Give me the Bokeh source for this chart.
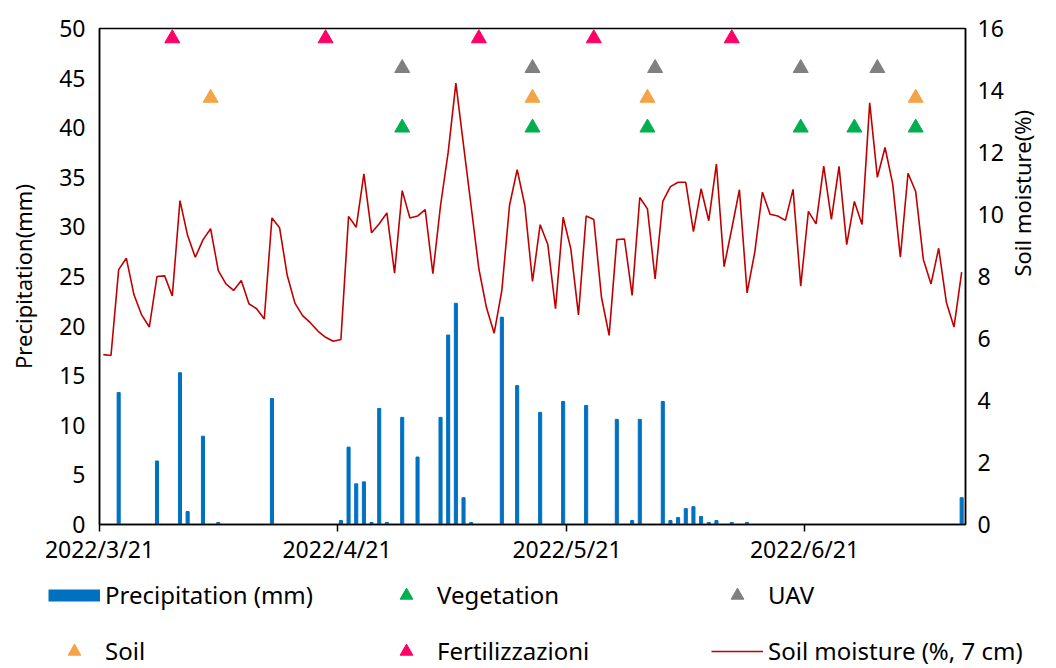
import math
import pandas as pd
from bokeh.plotting import figure
from bokeh.models import Range1d, LinearAxis, FixedTicker, Legend, LegendItem
from bokeh.embed import file_html
from bokeh.resources import INLINE

# ---------------- data ----------------
START = "2022-03-21"
END = "2022-07-12"

# daily soil moisture (%, 7 cm), one value per day from 2022-03-21
soil_moisture = [
    5.48, 5.45, 8.22, 8.59, 7.41, 6.76, 6.37, 8.00, 8.02, 7.37,
    10.45, 9.32, 8.62, 9.18, 9.54, 8.19, 7.76, 7.55, 7.87, 7.12,
    6.96, 6.63, 9.89, 9.57, 8.03, 7.14, 6.74, 6.51, 6.24, 6.04,
    5.91, 5.97, 9.94, 9.59, 11.31, 9.41, 9.70, 10.05, 8.11, 10.77,
    9.89, 9.95, 10.16, 8.09, 10.29, 12.01, 14.24, 12.24, 10.25, 8.25,
    6.99, 6.17, 7.55, 10.29, 11.45, 10.29, 7.84, 9.67, 9.03, 6.96,
    9.91, 8.89, 6.76, 9.95, 9.84, 7.33, 6.10, 9.19, 9.21, 7.39,
    10.55, 10.18, 7.92, 10.42, 10.90, 11.04, 11.04, 9.45, 10.83, 9.80,
    11.63, 8.32, 9.54, 10.80, 7.47, 8.78, 10.72, 10.01, 9.95, 9.81,
    10.81, 7.69, 10.10, 9.70, 11.56, 9.84, 11.55, 9.03, 10.42, 9.68,
    13.60, 11.20, 12.16, 10.99, 8.62, 11.33, 10.74, 8.55, 7.76, 8.91,
    7.17, 6.37, 8.14,
]

precip_dates = [
    "2022-03-23", "2022-03-28", "2022-03-31", "2022-04-01", "2022-04-03",
    "2022-04-05", "2022-04-12", "2022-04-21", "2022-04-22", "2022-04-23",
    "2022-04-24", "2022-04-25", "2022-04-26", "2022-04-27", "2022-04-29",
    "2022-05-01", "2022-05-04", "2022-05-05", "2022-05-06", "2022-05-07",
    "2022-05-08", "2022-05-12", "2022-05-14", "2022-05-17", "2022-05-20",
    "2022-05-23", "2022-05-27", "2022-05-29", "2022-05-30", "2022-06-02",
    "2022-06-03", "2022-06-04", "2022-06-05", "2022-06-06", "2022-06-07",
    "2022-06-08", "2022-06-09", "2022-06-11", "2022-06-13", "2022-07-11",
]
precip_mm = [
    13.3, 6.4, 15.3, 1.3, 8.9,
    0.2, 12.7, 0.4, 7.8, 4.1,
    4.3, 0.2, 11.7, 0.2, 10.8,
    6.8, 10.8, 19.1, 22.3, 2.7,
    0.2, 20.9, 14.0, 11.3, 12.4,
    12.0, 10.6, 0.4, 10.6, 12.4,
    0.4, 0.7, 1.6, 1.8, 0.8,
    0.2, 0.4, 0.2, 0.2, 2.7,
]

fert_dates = ["2022-03-30", "2022-04-19", "2022-05-09", "2022-05-24", "2022-06-11"]
uav_dates = ["2022-04-29", "2022-05-16", "2022-06-01", "2022-06-20", "2022-06-30"]
soil_dates = ["2022-04-04", "2022-05-16", "2022-05-31", "2022-07-05"]
veg_dates = ["2022-04-29", "2022-05-16", "2022-05-31", "2022-06-20", "2022-06-27", "2022-07-05"]
fert_level = 49
uav_level = 46
soil_level = 43
veg_level = 40

x_tick_dates = ["2022-03-21", "2022-04-21", "2022-05-21", "2022-06-21"]
x_tick_labels = ["2022/3/21", "2022/4/21", "2022/5/21", "2022/6/21"]
left_ticks = [0, 5, 10, 15, 20, 25, 30, 35, 40, 45, 50]
right_ticks = [0, 2, 4, 6, 8, 10, 12, 14, 16]

# ---------------- helpers ----------------
t0 = pd.Timestamp(START)


def day_center(d):
    return (pd.Timestamp(d) - t0).days + 0.5


def day_edge(d):
    return float((pd.Timestamp(d) - t0).days)


FONT = "Noto Sans"
BLUE = "#0070C0"
RED = "#C00000"
GREEN = "#00B050"
GREY = "#808080"
ORANGE = "#F4A347"
PINK = "#FF0066"

p = figure(
    width=1056, height=572,
    x_range=Range1d(0, day_edge(END)),
    y_range=Range1d(0, 50),
    output_backend="svg", toolbar_location=None,
    min_border_left=99, min_border_right=91,
    min_border_top=28, min_border_bottom=48,
)
p.extra_y_ranges = {"soil": Range1d(0, 16)}

p.xgrid.visible = False
p.ygrid.visible = False
p.outline_line_color = "black"
p.outline_line_width = 1.5
p.background_fill_color = "white"
p.border_fill_color = "white"

# bars
px = [day_center(d) for d in precip_dates]
p.vbar(x=px, top=precip_mm, width=0.4, color=BLUE)

# soil moisture line
sm_x = [i + 0.5 for i in range(len(soil_moisture))]
p.line(sm_x, soil_moisture, y_range_name="soil", color=RED, line_width=1.6)


# event markers
def markers(dates, level, color):
    xs = [day_center(d) for d in dates]
    return p.scatter(xs, [level] * len(xs), marker="triangle", size=15,
                     fill_color=color, line_color=color)


markers(fert_dates, fert_level, PINK)
markers(uav_dates, uav_level, GREY)
markers(soil_dates, soil_level, ORANGE)
markers(veg_dates, veg_level, GREEN)

# ---------------- axes ----------------
xa = p.xaxis[0]
xa.ticker = FixedTicker(ticks=[day_edge(d) for d in x_tick_dates])
xa.major_label_overrides = {day_edge(d): lab for d, lab in zip(x_tick_dates, x_tick_labels)}
xa.major_tick_out = 7
xa.major_tick_in = 0
xa.major_tick_line_width = 1.5
xa.major_label_standoff = 1

ya = p.yaxis[0]
ya.ticker = FixedTicker(ticks=left_ticks)
ya.axis_label = "Precipitation(mm)"
ya.major_tick_out = 0
ya.major_tick_in = 0
ya.major_label_standoff = 14
ya.axis_label_standoff = 18

yr = LinearAxis(y_range_name="soil", ticker=FixedTicker(ticks=right_ticks),
                axis_label="Soil moisture(%)")
yr.major_tick_out = 0
yr.major_tick_in = 0
yr.major_label_standoff = 12
yr.axis_label_standoff = 15
if "axis_label_orientation" in yr.properties():
    yr.axis_label_orientation = math.pi / 2
p.add_layout(yr, "right")

for ax in (xa, ya, yr):
    ax.axis_line_color = "black"
    ax.axis_line_width = 1.5
    ax.minor_tick_line_color = None
    ax.major_label_text_font = FONT
    ax.major_label_text_font_size = "23px"
    ax.major_label_text_color = "black"
    ax.axis_label_text_font = FONT
    ax.axis_label_text_font_size = "22px"
    ax.axis_label_text_font_style = "normal"
    ax.axis_label_text_color = "black"

# ---------------- legend strip (separate root, no frame alignment) ----------------
q = figure(
    width=1056, height=96,
    x_range=Range1d(0, 1), y_range=Range1d(0, 1),
    output_backend="svg", toolbar_location=None,
    x_axis_location=None, y_axis_location=None, min_border=0,
)
q.grid.visible = False
q.outline_line_color = None
q.background_fill_color = "white"
q.border_fill_color = "white"

off = [-10]
g_bar = q.line(off, off, line_color=BLUE, line_width=12, line_cap="butt")
g_veg = q.scatter(off, off, marker="triangle", fill_color=GREEN, line_color=GREEN)
g_uav = q.scatter(off, off, marker="triangle", fill_color=GREY, line_color=GREY)
g_soil = q.scatter(off, off, marker="triangle", fill_color=ORANGE, line_color=ORANGE)
g_fert = q.scatter(off, off, marker="triangle", fill_color=PINK, line_color=PINK)
g_line = q.line(off, off, line_color=RED, line_width=1.6)


def make_legend(items, loc):
    lg = Legend(items=items, location=loc, orientation="vertical")
    lg.glyph_width = 52
    lg.glyph_height = 32
    lg.label_height = 32
    lg.label_standoff = 5
    lg.spacing = 23
    lg.padding = 0
    lg.margin = 0
    lg.border_line_color = None
    lg.background_fill_alpha = 0
    lg.label_text_font = FONT
    lg.label_text_font_size = "24px"
    lg.label_text_color = "black"
    return lg


q.add_layout(make_legend([LegendItem(label="Precipitation (mm)", renderers=[g_bar]),
                          LegendItem(label="Soil", renderers=[g_soil])], (48, 1)))
q.add_layout(make_legend([LegendItem(label="Vegetation", renderers=[g_veg]),
                          LegendItem(label="Fertilizzazioni", renderers=[g_fert])], (380, 1)))
q.add_layout(make_legend([LegendItem(label="UAV", renderers=[g_uav]),
                          LegendItem(label="Soil moisture (%, 7 cm)", renderers=[g_line])], (711, 1)))

open("out.html", "w").write(file_html([p, q], INLINE))
